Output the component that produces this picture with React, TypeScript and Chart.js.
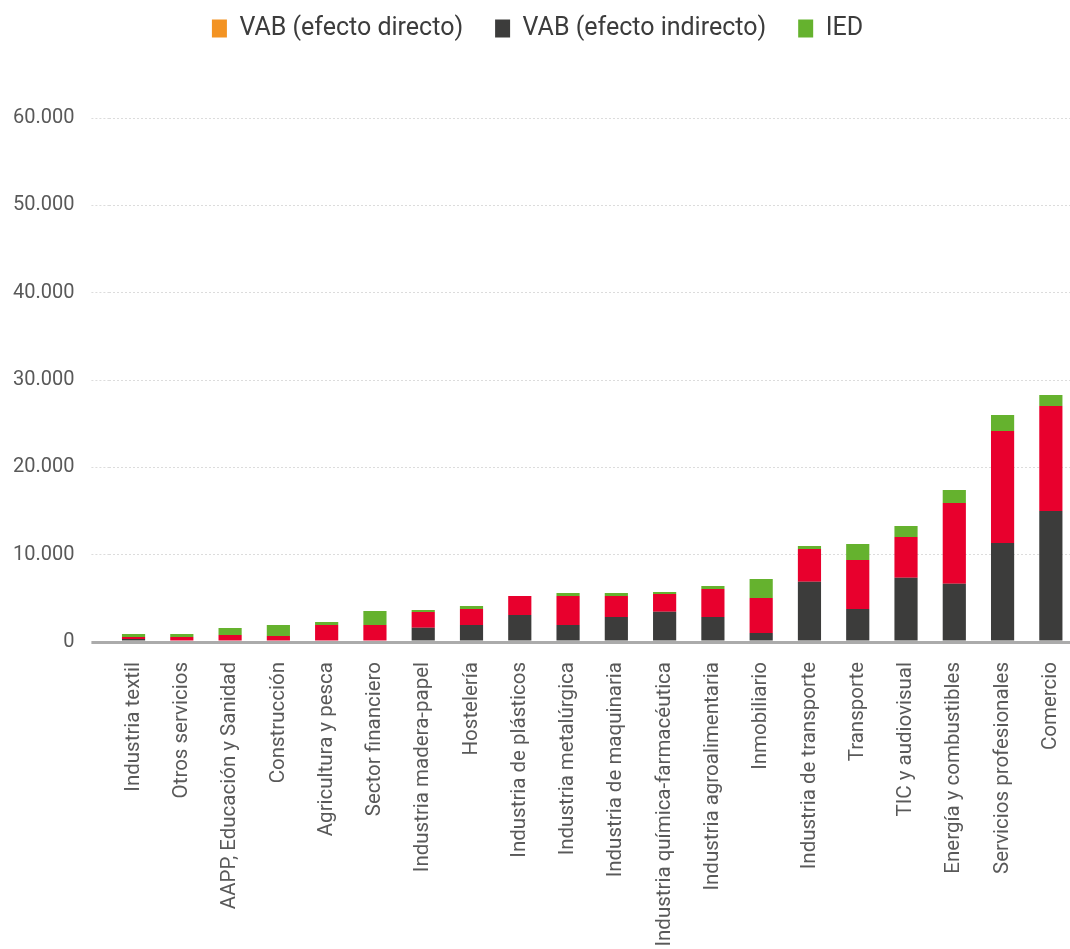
import React, { useEffect, useRef } from "react";
import { Chart, registerables } from "chart.js";

Chart.register(...registerables);

const categories = [
  "Industria textil",
  "Otros servicios",
  "AAPP, Educación y Sanidad",
  "Construcción",
  "Agricultura y pesca",
  "Sector financiero",
  "Industria madera-papel",
  "Hostelería",
  "Industria de plásticos",
  "Industria metalúrgica",
  "Industria de maquinaria",
  "Industria química-farmacéutica",
  "Industria agroalimentaria",
  "Inmobiliario",
  "Industria de transporte",
  "Transporte",
  "TIC y audiovisual",
  "Energía y combustibles",
  "Servicios profesionales",
  "Comercio",
];

const vabIndirecto = [350, 0, 0, 0, 0, 0, 1640, 1950, 3090, 1950, 2860, 3470, 2860, 1030, 6910, 3780, 7370, 6680, 11340, 15000];
const vabDirecto = [230, 570, 800, 690, 1950, 1950, 1800, 1830, 2180, 3320, 2400, 2020, 3200, 4000, 3740, 5610, 4660, 9240, 12830, 12020];
const ied = [340, 340, 800, 1260, 340, 1600, 230, 340, 0, 340, 340, 230, 340, 2180, 340, 1830, 1260, 1490, 1830, 1260];

const yTicks = [0, 10000, 20000, 30000, 40000, 50000, 60000];

const fmt = (v: number) => String(Math.round(v)).replace(/\B(?=(\d{3})+(?!\d))/g, ".");

export default function App() {
  const ref = useRef<HTMLCanvasElement | null>(null);

  useEffect(() => {
    if (!ref.current) return;
    const legendOrder: Record<number, number> = { 1: 0, 0: 1, 2: 2 };
    const chart = new Chart(ref.current, {
      type: "bar",
      data: {
        labels: categories,
        datasets: [
          { label: "VAB (efecto indirecto)", data: vabIndirecto, backgroundColor: "#3c3c3b", borderWidth: 0 },
          { label: "VAB (efecto directo)", data: vabDirecto, backgroundColor: "#e8002d", borderWidth: 0 },
          { label: "IED", data: ied, backgroundColor: "#65b22e", borderWidth: 0 },
        ],
      },
      options: {
        animation: false,
        responsive: true,
        maintainAspectRatio: false,
        layout: { padding: { top: -16, left: 0, right: 0, bottom: 0 } },
        datasets: { bar: { categoryPercentage: 1, barPercentage: 0.48 } },
        plugins: {
          tooltip: { enabled: false },
          legend: {
            position: "top",
            labels: {
              boxWidth: 15,
              boxHeight: 18,
              padding: 32,
              color: "#3c3c3c",
              font: { family: "Roboto", size: 25 },
              generateLabels: (c: any) => {
                const items = Chart.defaults.plugins.legend.labels.generateLabels(c);
                return items.map((it: any) =>
                  it.datasetIndex === 1
                    ? { ...it, fillStyle: "#f39323", strokeStyle: "#f39323", lineWidth: 0 }
                    : { ...it, lineWidth: 0 }
                );
              },
              sort: (a: any, b: any) => legendOrder[a.datasetIndex] - legendOrder[b.datasetIndex],
            },
          },
        },
        scales: {
          x: {
            stacked: true,
            grid: { display: false, drawTicks: false },
            border: { display: false },
            ticks: {
              autoSkip: false,
              minRotation: 90,
              maxRotation: 90,
              padding: 20,
              color: "#595959",
              font: { family: "Roboto", size: 20.5 },
            },
            afterFit: (s: any) => {
              s.height = 307;
              s.paddingLeft = 0;
              s.paddingRight = 0;
            },
          },
          y: {
            stacked: true,
            min: 0,
            max: 60000,
            afterBuildTicks: (s: any) => {
              s.ticks = yTicks.map((v) => ({ value: v }));
            },
            grid: {
              color: (ctx: any) => (ctx.tick && ctx.tick.value === 0 ? "#ababab" : "#dcdcdc"),
              tickColor: (ctx: any) => (ctx.tick && ctx.tick.value === 0 ? "#ababab" : "#dcdcdc"),
              lineWidth: (ctx: any) => (ctx.tick && ctx.tick.value === 0 ? 3 : 1),
              tickWidth: (ctx: any) => (ctx.tick && ctx.tick.value === 0 ? 3 : 1),
              tickLength: 18,
              tickBorderDash: (ctx: any) => (ctx.tick && ctx.tick.value === 0 ? [] : [2, 2]),
            },
            border: {
              display: false,
              dash: (ctx: any) => (ctx.tick && ctx.tick.value === 0 ? [] : [2, 2]),
            },
            ticks: {
              padding: 17,
              color: "#595959",
              font: { family: "Roboto", size: 20 },
              callback: (v: any) => fmt(Number(v)),
            },
            afterFit: (s: any) => {
              s.width = 109.4;
              s.paddingTop = 0;
              s.paddingBottom = 0;
            },
          },
        },
      },
      plugins: [
        {
          id: "legendHeight",
          beforeInit(c: any) {
            const orig = c.legend.fit;
            c.legend.fit = function () {
              orig.call(this);
              this.height = 134;
            };
          },
        },
      ],
    } as any);
    return () => chart.destroy();
  }, []);

  return (
    <div style={{ position: "fixed", left: 0, top: 0, width: 1070, height: 949, overflow: "hidden", background: "#fff" }}>
      <div style={{ position: "relative", width: 1075, height: 949 }}>
        <canvas ref={ref} />
      </div>
    </div>
  );
}
